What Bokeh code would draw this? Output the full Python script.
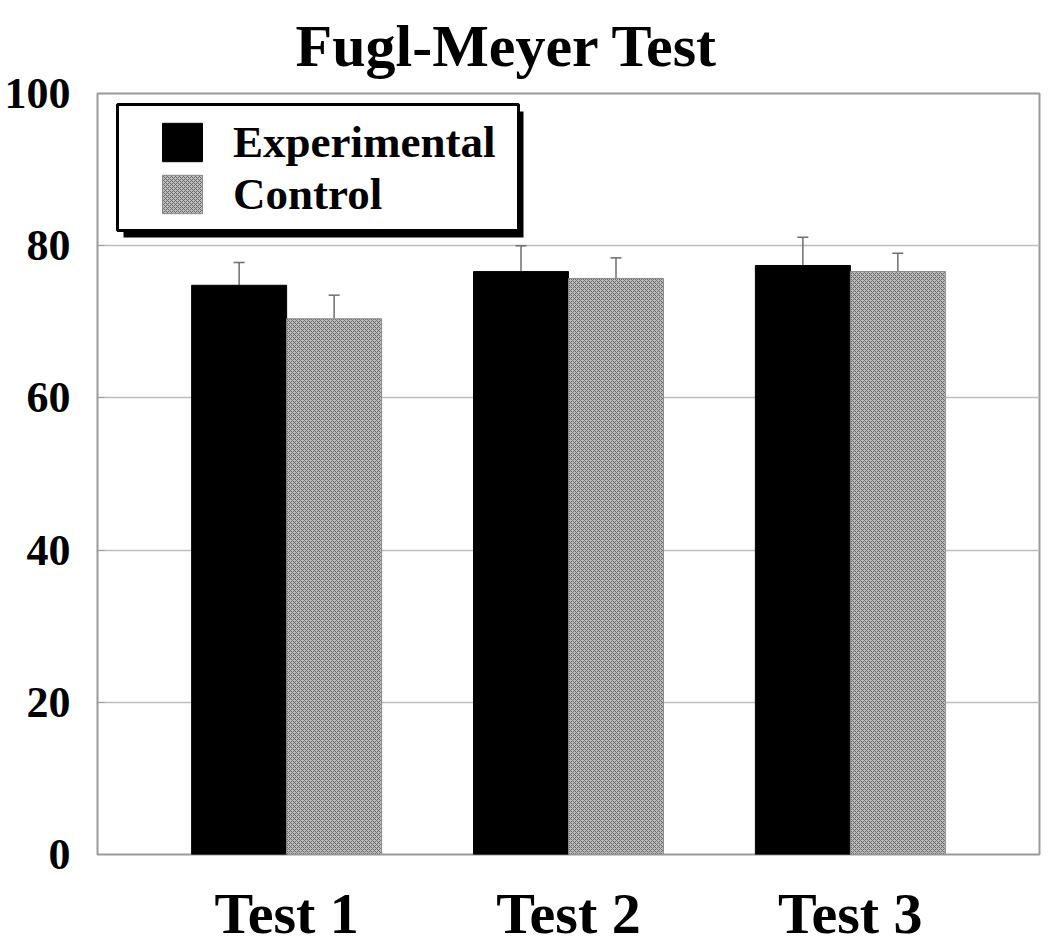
from bokeh.plotting import figure
from bokeh.models import (ColumnDataSource, FactorRange, Legend, LegendItem,
                          Whisker, TeeHead, BoxAnnotation, SingleIntervalTicker)
from bokeh.transform import dodge
from bokeh.embed import file_html
from bokeh.resources import INLINE

groups = ["Test 1", "Test 2", "Test 3"]
experimental = [74.8, 76.6, 77.4]
control = [70.4, 75.7, 76.6]
exp_err = [3.0, 3.4, 3.7]
ctrl_err = [3.1, 2.7, 2.4]

src = ColumnDataSource(data=dict(
    g=groups,
    exp=experimental,
    ctrl=control,
    exp_up=[v + e for v, e in zip(experimental, exp_err)],
    ctrl_up=[v + e for v, e in zip(control, ctrl_err)],
))

FONT = "Liberation Serif"
BW = 0.337

p = figure(x_range=FactorRange(*groups, range_padding=0.114), y_range=(0, 100),
           width=1046, height=948, output_backend="svg", toolbar_location=None,
           min_border_left=97, min_border_right=7, min_border_top=93,
           min_border_bottom=80)

p.title.text = "Fugl-Meyer Test"
p.title.text_font = FONT
p.title.text_font_size = "60px"
p.title.text_font_style = "bold"
p.title.text_color = "black"
p.title.align = "left"
p.title.offset = 198
p.title.standoff = 25
p.title.vertical_align = "top"
p.title.text_line_height = 1.4

exp_r = p.vbar(x=dodge("g", -BW / 2, range=p.x_range), top="exp", width=BW,
               source=src, fill_color="black", line_color="black")
ctrl_r = p.vbar(x=dodge("g", BW / 2, range=p.x_range), top="ctrl", width=BW,
                source=src, fill_color="#bcbcbc", line_color="#8a8a8a",
                hatch_pattern="diagonal_cross", hatch_color="#6a6a6a",
                hatch_scale=4, hatch_weight=1)

for col_mean, col_up, off in (("exp", "exp_up", -BW / 2), ("ctrl", "ctrl_up", BW / 2)):
    w = Whisker(base=dodge("g", off, range=p.x_range), lower=col_mean, upper=col_up,
                source=src, line_color="#6e6e6e", line_width=1.5,
                upper_head=TeeHead(size=11, line_color="#6e6e6e", line_width=1.5),
                lower_head=None)
    p.add_layout(w)

# legend frame with drop shadow
p.add_layout(BoxAnnotation(left=123, right=523, top=111, bottom=237,
                           left_units="canvas", right_units="canvas",
                           top_units="canvas", bottom_units="canvas",
                           fill_color="black", fill_alpha=1, line_color=None))
p.add_layout(BoxAnnotation(left=117, right=518, top=104, bottom=230,
                           left_units="canvas", right_units="canvas",
                           top_units="canvas", bottom_units="canvas",
                           fill_color="white", fill_alpha=1, line_color="black",
                           line_width=3, line_alpha=1))

legend = Legend(items=[LegendItem(label="Experimental", renderers=[exp_r]),
                       LegendItem(label="Control", renderers=[ctrl_r])],
                location=(60, 634), padding=0, margin=0, spacing=0,
                border_line_color=None, background_fill_alpha=0,
                glyph_width=50, glyph_height=48, label_standoff=26,
                label_height=40,
                label_text_font=FONT, label_text_font_size="45px",
                label_text_line_height=0.9,
                label_text_font_style="bold", label_text_color="black")
p.add_layout(legend)

p.outline_line_color = "#9a9a9a"
p.outline_line_width = 2
p.xgrid.grid_line_color = None
p.ygrid.grid_line_color = "#bdbdbd"
p.ygrid.grid_line_width = 1.5
p.yaxis.ticker = SingleIntervalTicker(interval=20)
p.yaxis.minor_tick_line_color = None
p.yaxis.major_tick_in = 7
p.yaxis.major_tick_out = 0
p.yaxis.major_tick_line_color = "#9a9a9a"
p.yaxis.axis_line_color = None
p.yaxis.major_label_text_font = FONT
p.yaxis.major_label_text_font_size = "44px"
p.yaxis.major_label_text_font_style = "bold"
p.yaxis.major_label_text_color = "black"
p.yaxis.major_label_standoff = 23

p.xaxis.axis_line_color = None
p.xaxis.major_tick_line_color = None
p.xaxis.minor_tick_line_color = None
p.xaxis.major_label_text_font = FONT
p.xaxis.major_label_text_font_size = "58px"
p.xaxis.major_label_text_font_style = "bold"
p.xaxis.major_label_text_color = "black"
p.xaxis.major_label_standoff = 20

open("out.html", "w").write(file_html(p, INLINE))
